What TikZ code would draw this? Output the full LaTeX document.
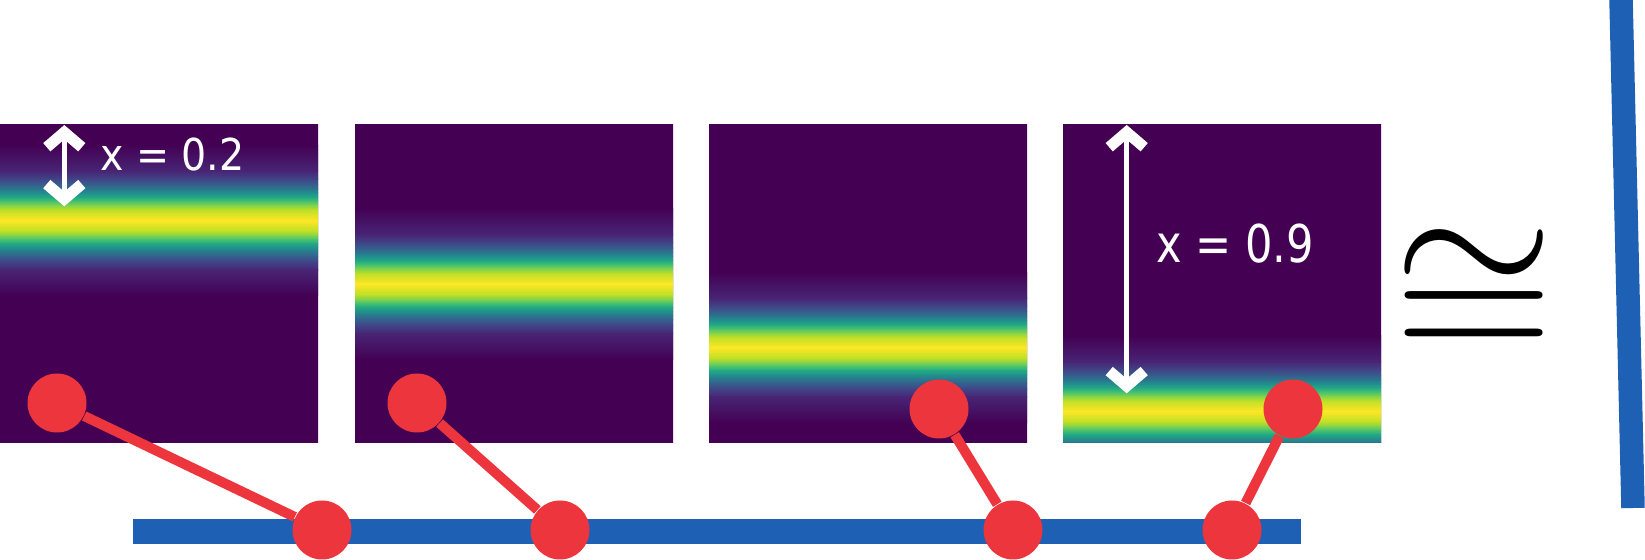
\documentclass[tikz,border=0pt]{standalone}
\usepackage{fontspec}
\newfontfamily\labelfont{DejaVu Sans}
\usetikzlibrary{arrows.meta}
\definecolor{vir0}{RGB}{68,1,84}
\definecolor{vir1}{RGB}{72,36,117}
\definecolor{vir2}{RGB}{65,68,135}
\definecolor{vir3}{RGB}{53,95,141}
\definecolor{vir4}{RGB}{42,120,142}
\definecolor{vir5}{RGB}{33,145,140}
\definecolor{vir6}{RGB}{34,168,132}
\definecolor{vir7}{RGB}{68,191,112}
\definecolor{vir8}{RGB}{122,209,81}
\definecolor{vir9}{RGB}{189,223,38}
\definecolor{vir10}{RGB}{253,231,37}
\definecolor{bead}{RGB}{237,53,61}
\definecolor{rail}{RGB}{30,96,180}
\begin{document}
\begin{tikzpicture}[line join=round,
  bead/.style={circle, fill=bead, minimum size=5.9mm, inner sep=0pt},
  link/.style={draw=bead, line width=0.1cm},
  gauge/.style={white, line width=0.05cm, {Straight Barb[length=1.5mm, width=3.5mm, line width'=1.1mm]}-{Straight Barb[length=1.5mm, width=3.5mm, line width'=1.1mm]}},
  tag/.style={text=white, font=\labelfont, inner sep=0pt, anchor=base}]
\useasboundingbox (0,0) rectangle (16.45,5.6);
\foreach \x/\yc in {0/3.396, 3.55/2.76, 7.09/2.124, 10.63/1.488}{
  \begin{scope}
    \clip (\x,1.17) rectangle ++(3.18,3.18);
    \fill[vir0] (\x-0.1,1.1) rectangle ++(3.4,3.4);
    \foreach \da/\ca/\db/\cb in {0/vir10/0.106/vir9, 0.106/vir9/0.154/vir8,
      0.154/vir8/0.194/vir7, 0.194/vir7/0.232/vir6, 0.232/vir6/0.271/vir5,
      0.271/vir5/0.311/vir4, 0.311/vir4/0.357/vir3, 0.357/vir3/0.413/vir2,
      0.413/vir2/0.494/vir1, 0.494/vir1/0.75/vir0}{
      \shade[bottom color=\ca, top color=\cb] (\x-0.1,\yc+\da) rectangle (\x+3.3,\yc+\db+0.003);
      \shade[top color=\ca, bottom color=\cb] (\x-0.1,\yc-\db-0.003) rectangle (\x+3.3,\yc-\da);
    }
  \end{scope}
}
\path
(0.643,4.35) coordinate (g1a)
(0.643,3.537) coordinate (g1b)
(11.267,4.35) coordinate (g4a)
(11.267,1.667) coordinate (g4b)
;
\draw[gauge] (g1a) -- (g1b);
\draw[gauge] (g4a) -- (g4b);
\node[tag] (lab1) at (1.724,3.897) {\fontsize{12.5}{15}\selectfont\scalebox{0.9}[1]{x = 0.2}};
\node[tag] (lab4) at (12.35,2.97) {\fontsize{14.8}{18}\selectfont\scalebox{0.83}[1]{x = 0.9}};
\draw[rail, line width=0.25cm] (1.33,0.285) -- (13.01,0.285);
\draw[rail, line width=0.235cm] (16.208,5.7) -- (16.33,0.52);
\node[bead] (t1) at (0.57,1.57) {};
\node[bead] (b1) at (3.22,0.30) {};
\node[bead] (t2) at (4.17,1.57) {};
\node[bead] (b2) at (5.60,0.30) {};
\node[bead] (t3) at (9.39,1.51) {};
\node[bead] (b3) at (10.13,0.30) {};
\node[bead] (t4) at (12.93,1.51) {};
\node[bead] (b4) at (12.32,0.30) {};
\foreach \i in {1,...,4} \draw[link] (t\i) -- (b\i);
\node[inner sep=0pt] (iso) at (14.745,2.64) {\scalebox{5.9}[5.5]{$\cong$}};
\end{tikzpicture}
\end{document}
